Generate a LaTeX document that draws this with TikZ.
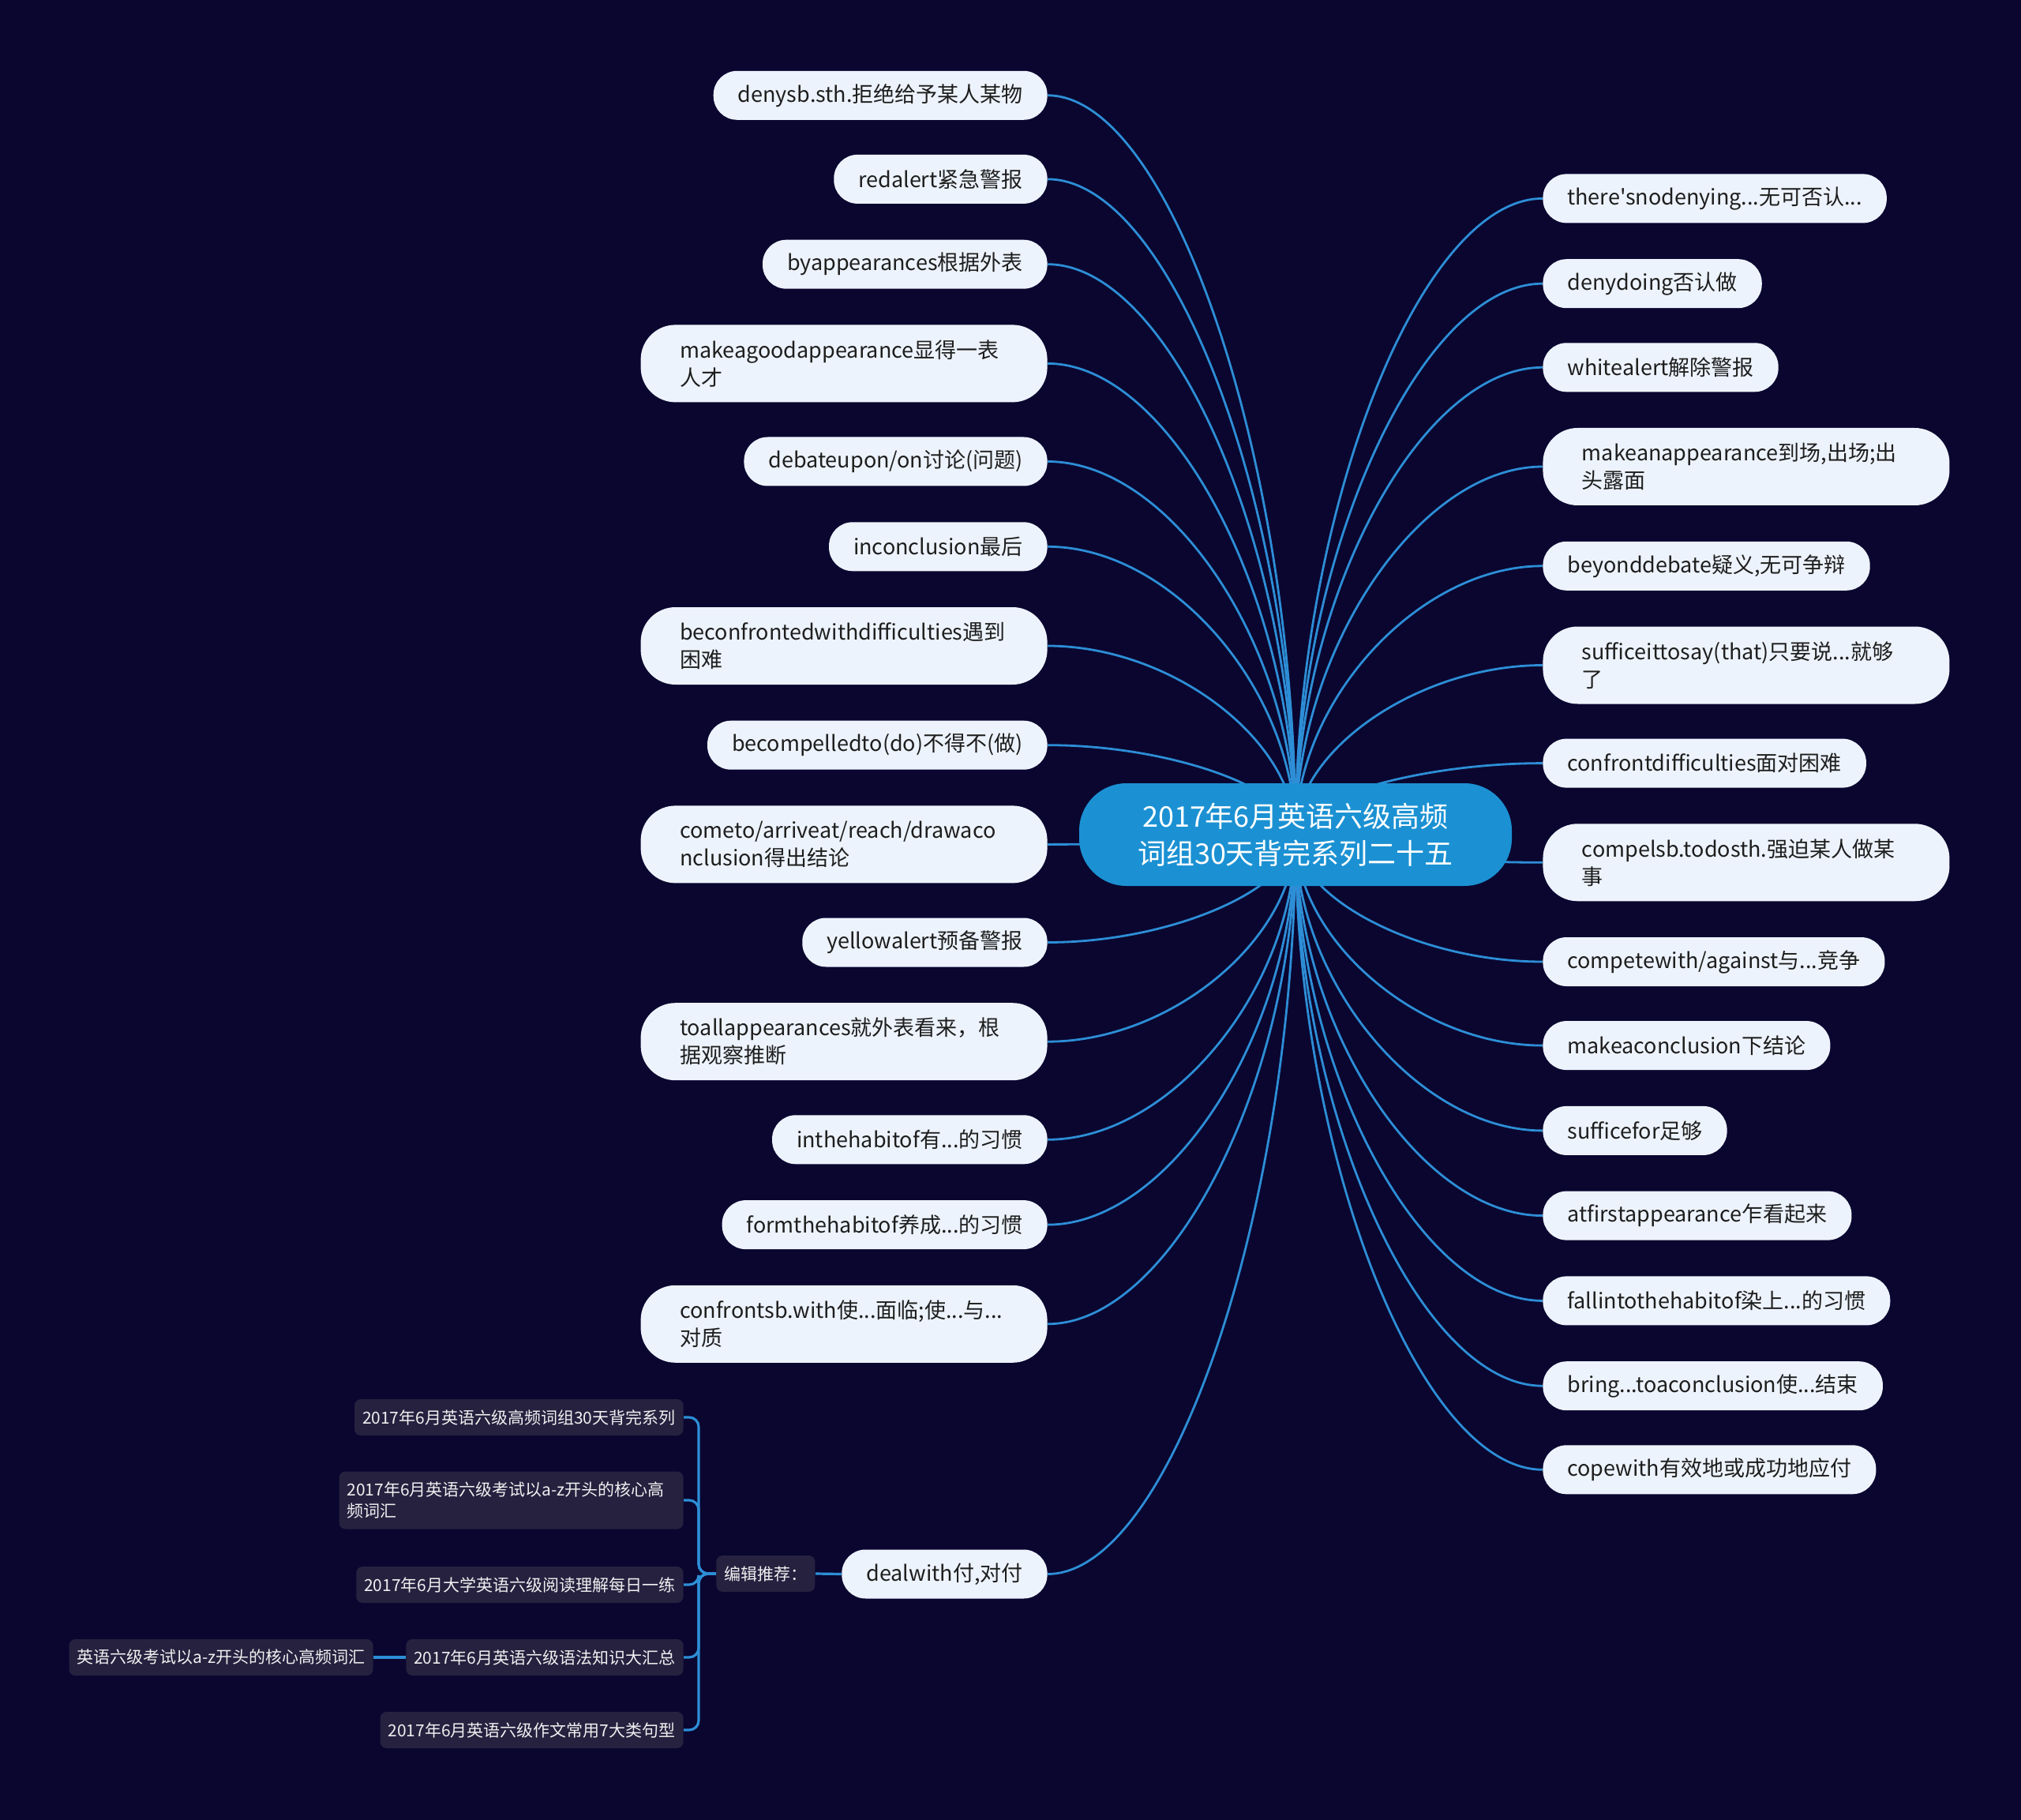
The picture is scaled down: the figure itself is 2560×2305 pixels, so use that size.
\documentclass[tikz,border=0pt]{standalone}
\usepackage{fontspec}
\newfontfamily\cjk{Noto Sans CJK SC}
\usetikzlibrary{calc}
\definecolor{bgc}{HTML}{0A0630}
\definecolor{rootfill}{HTML}{1B91D3}
\definecolor{linec}{HTML}{2D8ED6}
\definecolor{leaffill}{HTML}{EDF3FC}
\definecolor{leaftext}{HTML}{1E1E1E}
\definecolor{smallfill}{HTML}{25213F}
\definecolor{smalltext}{HTML}{F0F0F0}
\pgfdeclarelayer{bg}
\pgfsetlayers{bg,main}
\newcommand\nohy{\hyphenpenalty 10000 \exhyphenpenalty 10000 }
\newcommand\conn[2]{%
  \path (#1.#2) coordinate (p) (root.center |- p) coordinate (q);
  \draw[conn] (p) .. controls ($(p)!0.5!(q)$) and ($(root.center)!0.5!(q)$) .. (root.center);}
\begin{document}
\begin{tikzpicture}[x=0.5pt,y=-0.5pt,
  rootbox/.style={fill=rootfill, text=white, font=\cjk\fontsize{18pt}{23.5pt}\selectfont,
    rounded corners=30pt, minimum width=274pt, minimum height=65pt, align=center, inner sep=0pt},
  leaf/.style={fill=leaffill, text=leaftext, font=\cjk\fontsize{13.5pt}{17.5pt}\selectfont\nohy,
    rounded corners=15pt, minimum height=31pt, inner xsep=15.5pt, inner ysep=0pt},
  leaftwo/.style={leaf, text width=208pt, align=left, inner xsep=24.75pt, minimum height=49pt, rounded corners=22pt},
  small/.style={fill=smallfill, text=smalltext, font=\cjk\fontsize{10.5pt}{13.5pt}\selectfont\nohy,
    rounded corners=4pt, minimum height=23pt, inner xsep=5pt, inner ysep=0pt},
  smalltwo/.style={small, text width=208pt, align=left, minimum height=36.5pt},
  conn/.style={draw=linec, line width=1.4pt},
  conntwo/.style={draw=linec, line width=1.6pt},
]
\useasboundingbox (0,0) rectangle (2560,2305);
\begin{pgfonlayer}{bg}
\fill[bgc] (0,0) rectangle (2560,2305);
\end{pgfonlayer}

\node[rootbox] (root) at (1641,1057) {2017年6月英语六级高频\\词组30天背完系列二十五};

% left leaves
\node[leaf,anchor=east] (L1) at (1327,120.8) {denysb.sth.拒绝给予某人某物};
\node[leaf,anchor=east] (L2) at (1327,226.9) {redalert紧急警报};
\node[leaf,anchor=east] (L3) at (1327,334.7) {byappearances根据外表};
\node[leaftwo,anchor=east] (L4) at (1327,460.4) {makeagoodappearance显得一表\\人才};
\node[leaf,anchor=east] (L5) at (1327,584.5) {debateupon/on讨论(问题)};
\node[leaf,anchor=east] (L6) at (1327,692.3) {inconclusion最后};
\node[leaftwo,anchor=east] (L7) at (1327,818) {beconfrontedwithdifficulties遇到\\困难};
\node[leaf,anchor=east] (L8) at (1327,943.7) {becompelledto(do)不得不(做)};
\node[leaftwo,anchor=east] (L9) at (1327,1069.4) {cometo/arriveat/reach/drawaco\\nclusion得出结论};
\node[leaf,anchor=east] (L10) at (1327,1193.5) {yellowalert预备警报};
\node[leaftwo,anchor=east] (L11) at (1327,1319.2) {toallappearances就外表看来，根\\据观察推断};
\node[leaf,anchor=east] (L12) at (1327,1443.3) {inthehabitof有...的习惯};
\node[leaf,anchor=east] (L13) at (1327,1551.1) {formthehabitof养成...的习惯};
\node[leaftwo,anchor=east] (L14) at (1327,1676.8) {confrontsb.with使...面临;使...与...\\对质};
\node[leaf,anchor=east] (L15) at (1327,1993.5) {dealwith付,对付};

% right leaves
\node[leaf,anchor=west] (R1) at (1954,251.4) {there'snodenying...无可否认...};
\node[leaf,anchor=west] (R2) at (1954,359.2) {denydoing否认做};
\node[leaf,anchor=west] (R3) at (1954,465.3) {whitealert解除警报};
\node[leaftwo,anchor=west] (R4) at (1954,591) {makeanappearance到场,出场;出\\头露面};
\node[leaf,anchor=west] (R5) at (1954,716.8) {beyonddebate疑义,无可争辩};
\node[leaftwo,anchor=west] (R6) at (1954,842.5) {sufficeittosay(that)只要说...就够\\了};
\node[leaf,anchor=west] (R7) at (1954,966.6) {confrontdifficulties面对困难};
\node[leaftwo,anchor=west] (R8) at (1954,1092.3) {compelsb.todosth.强迫某人做某\\事};
\node[leaf,anchor=west] (R9) at (1954,1218) {competewith/against与...竞争};
\node[leaf,anchor=west] (R10) at (1954,1324.1) {makeaconclusion下结论};
\node[leaf,anchor=west] (R11) at (1954,1431.9) {sufficefor足够};
\node[leaf,anchor=west] (R12) at (1954,1539.6) {atfirstappearance乍看起来};
\node[leaf,anchor=west] (R13) at (1954,1647.4) {fallintothehabitof染上...的习惯};
\node[leaf,anchor=west] (R14) at (1954,1755.2) {bring...toaconclusion使...结束};
\node[leaf,anchor=west] (R15) at (1954,1861.3) {copewith有效地或成功地应付};

% small nodes
\node[small,anchor=west] (ed) at (907,1993) {编辑推荐：};
\node[small,anchor=east] (s1) at (866,1795) {2017年6月英语六级高频词组30天背完系列};
\node[smalltwo,anchor=east] (s2) at (866,1900) {2017年6月英语六级考试以a-z开头的核心高\\频词汇};
\node[small,anchor=east] (s3) at (866,2007) {2017年6月大学英语六级阅读理解每日一练};
\node[small,anchor=east] (s4) at (866,2099) {2017年6月英语六级语法知识大汇总};
\node[small,anchor=east] (s5) at (473,2099) {英语六级考试以a-z开头的核心高频词汇};
\node[small,anchor=east] (s6) at (866,2191) {2017年6月英语六级作文常用7大类句型};
\coordinate (bx) at (885,1993);

\begin{pgfonlayer}{bg}
\foreach \n in {L1,L2,L3,L4,L5,L6,L7,L8,L9,L10,L11,L12,L13,L14,L15} {\conn{\n}{east}}
\foreach \n in {R1,R2,R3,R4,R5,R6,R7,R8,R9,R10,R11,R12,R13,R14,R15} {\conn{\n}{west}}
\draw[conntwo] (ed.east) -- (L15.west);
\draw[conntwo] (s4.west) -- (s5.east);
\foreach \n in {s1,s2,s3,s4,s6} {\draw[conntwo, rounded corners=6pt] (ed.west) -- (bx) |- (\n.east);}
\end{pgfonlayer}
\end{tikzpicture}
\end{document}
